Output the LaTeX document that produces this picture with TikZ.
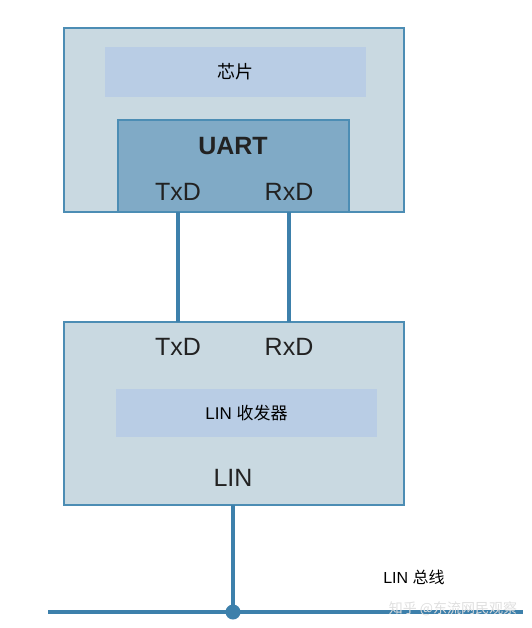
\documentclass[tikz,border=0pt]{standalone}
\usepackage{fontspec}
\setmainfont{Liberation Sans}
\newfontfamily\cjk{Noto Sans CJK SC}
\begin{document}
\begin{tikzpicture}[x=1pt,y=-1pt,
  wire/.style={draw=linec,line width=3.5pt},
  outerbox/.style={draw=borderc,line width=2.6pt,fill=outerc},
  innerbox/.style={fill=innerc,draw=none},
  pin/.style={font=\fontsize{25}{27}\selectfont,text=textc}]
\definecolor{outerc}{HTML}{C9D9E1}
\definecolor{borderc}{HTML}{4C8DB4}
\definecolor{linec}{HTML}{3D80AB}
\definecolor{innerc}{HTML}{B9CDE5}
\definecolor{uartc}{HTML}{80AAC6}
\definecolor{textc}{HTML}{222222}
\useasboundingbox (0,0) rectangle (531,628);
% top chip
\node[outerbox,minimum width=340pt,minimum height=184pt,inner sep=0pt] (chip) at (234,120) {};
\node[innerbox,minimum width=261pt,minimum height=50pt,inner sep=0pt] (chiplbl) at (235.5,72) {\cjk\fontsize{18}{20}\selectfont 芯片};
\node[draw=borderc,line width=2.6pt,fill=uartc,minimum width=231pt,minimum height=92pt,inner sep=0pt] (uart) at (233.5,166) {};
\node[pin,font=\bfseries\fontsize{25}{27}\selectfont] (uartlbl) at (233,146) {UART};
\node[pin] (txa) at (178,192) {TxD};
\node[pin] (rxa) at (289,192) {RxD};
% transceiver
\node[outerbox,minimum width=340pt,minimum height=183pt,inner sep=0pt] (trx) at (234,413.5) {};
\node[pin] (txb) at (178,347) {TxD};
\node[pin] (rxb) at (289,347) {RxD};
\node[innerbox,minimum width=261pt,minimum height=48pt,inner sep=0pt] (trxlbl) at (246.5,413) {\fontsize{17}{19}\selectfont LIN {\cjk 收发器}};
\node[pin] (linpin) at (233,478) {LIN};
% connections
\coordinate (ta) at (178,212);
\coordinate (tb) at (178,322);
\coordinate (ra) at (289,212);
\coordinate (rb) at (289,322);
\draw[wire] (ta) -- (tb);
\draw[wire] (ra) -- (rb);
\coordinate (lp) at (233,505);
\coordinate (junc) at (233,612);
\coordinate (busl) at (48,612);
\coordinate (busr) at (523,612);
\draw[wire] (lp) -- (junc);
\draw[wire,line width=4pt] (busl) -- (busr);
\fill[linec] (junc) circle (7.5pt);
\node[font=\fontsize{16}{18}\selectfont,text=black] (buslbl) at (414,577) {LIN {\cjk 总线}};
\node[font=\cjk\fontsize{14}{16}\selectfont,text=white!75!gray] (wm) at (453,609) {知乎 @东流网民观察};
\end{tikzpicture}
\end{document}
